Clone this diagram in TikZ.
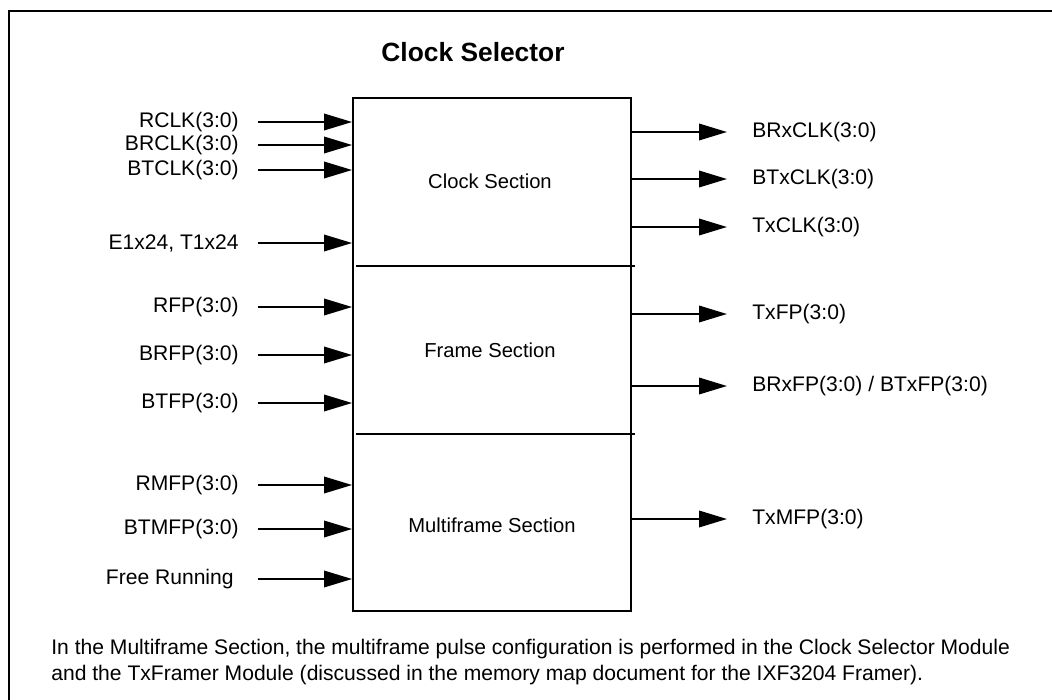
\documentclass[tikz,border=0pt]{standalone}
\usepackage{fontspec}
\setmainfont{Liberation Sans}
\usetikzlibrary{arrows.meta}

\tikzset{
    sig/.style={line width=1.1pt,-{Triangle[length=0.56cm,width=0.33cm]}},
    pin/.style={inner sep=0pt,font=\fontsize{12}{14}\selectfont},
    sect/.style={inner sep=0pt,font=\fontsize{11.5}{14}\selectfont},
}

\begin{document}
\begin{tikzpicture}[x=0.02cm,y=-0.02cm]
    \useasboundingbox (0,0) rectangle (1052,700);
    % outer frame, only top and left edges show
    \draw [line width=1.4pt] (9,700)--(9,11)--(1052,11);

    \node (title) at (473,52) {\fontsize{15}{18}\selectfont\bfseries Clock Selector};

    \node [draw,line width=1.1pt,minimum width=5.56cm,minimum height=10.26cm,inner sep=0pt] (sel) at (492,354.5) {};
    \draw [line width=1.1pt] (356,266)--(635,266);
    \draw [line width=1.1pt] (356,434)--(635,434);

    \node [sect] (clksec) at (490,181) {Clock Section};
    \node [sect] (frmsec) at (490,350) {Frame Section};
    \node [sect] (mfsec) at (492,525) {Multiframe Section};

    \coordinate (inx) at (258,0);
    \coordinate (outx) at (727,0);

    % inputs
    \node [pin,anchor=east] (rclk) at (239,122) {RCLK(3:0)};
    \node [pin,anchor=east] (brclk) at (239,145) {BRCLK(3:0)};
    \node [pin,anchor=east] (btclk) at (239,170) {BTCLK(3:0)};
    \node [pin,anchor=east] (e1t1) at (239,243) {E1x24, T1x24};
    \node [pin,anchor=east] (rfp) at (239,307) {RFP(3:0)};
    \node [pin,anchor=east] (brfp) at (239,355) {BRFP(3:0)};
    \node [pin,anchor=east] (btfp) at (239,403) {BTFP(3:0)};
    \node [pin,anchor=east] (rmfp) at (239,485) {RMFP(3:0)};
    \node [pin,anchor=east] (btmfp) at (239,529) {BTMFP(3:0)};
    \node [pin,anchor=east] (freerun) at (234,579) {Free Running};

    \draw [sig] (inx |- rclk)--(rclk -| sel.west);
    \draw [sig] (inx |- brclk)--(brclk -| sel.west);
    \draw [sig] (inx |- btclk)--(btclk -| sel.west);
    \draw [sig] (inx |- e1t1)--(e1t1 -| sel.west);
    \draw [sig] (inx |- rfp)--(rfp -| sel.west);
    \draw [sig] (inx |- brfp)--(brfp -| sel.west);
    \draw [sig] (inx |- btfp)--(btfp -| sel.west);
    \draw [sig] (inx |- rmfp)--(rmfp -| sel.west);
    \draw [sig] (inx |- btmfp)--(btmfp -| sel.west);
    \draw [sig] (inx |- freerun)--(freerun -| sel.west);

    % outputs
    \node [pin,anchor=west] (brxclk) at (752,132) {BRxCLK(3:0)};
    \node [pin,anchor=west] (btxclk) at (752,179) {BTxCLK(3:0)};
    \node [pin,anchor=west] (txclk) at (752,227) {TxCLK(3:0)};
    \node [pin,anchor=west] (txfp) at (752,314) {TxFP(3:0)};
    \node [pin,anchor=west] (bxfp) at (752,386) {BRxFP(3:0) / BTxFP(3:0)};
    \node [pin,anchor=west] (txmfp) at (752,519) {TxMFP(3:0)};

    \draw [sig] (brxclk -| sel.east)--(outx |- brxclk);
    \draw [sig] (btxclk -| sel.east)--(outx |- btxclk);
    \draw [sig] (txclk -| sel.east)--(outx |- txclk);
    \draw [sig] (txfp -| sel.east)--(outx |- txfp);
    \draw [sig] (bxfp -| sel.east)--(outx |- bxfp);
    \draw [sig] (txmfp -| sel.east)--(outx |- txmfp);

    \node [anchor=west,align=left,inner sep=0pt,font=\fontsize{12}{14.5}\selectfont] (note) at (51,662)
        {In the Multiframe Section, the multiframe pulse configuration is performed in the Clock Selector Module\\
         and the TxFramer Module (discussed in the memory map document for the IXF3204 Framer).};
\end{tikzpicture}
\end{document}
